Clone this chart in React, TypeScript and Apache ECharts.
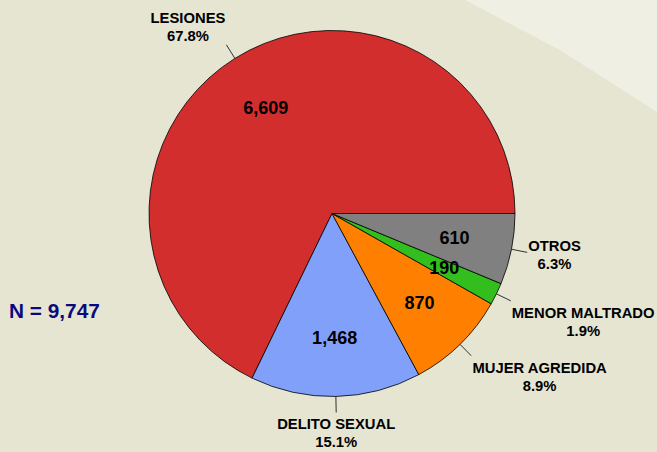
import { useEffect, useRef } from "react";
import * as echarts from "echarts";

const categories = ["LESIONES", "DELITO SEXUAL", "MUJER AGREDIDA", "MENOR MALTRADO", "OTROS"];
const values = [6609, 1468, 870, 190, 610];
const percentLabels = ["67.8%", "15.1%", "8.9%", "1.9%", "6.3%"];
const valueLabels = ["6,609", "1,468", "870", "190", "610"];
const totalLabel = "N = 9,747";
const colors = ["#D22E2E", "#80A0FA", "#FF8000", "#32BE1C", "#808080"];

const FONT = "'Liberation Sans', Arial, sans-serif";

export default function App() {
  const ref = useRef<HTMLDivElement>(null);
  useEffect(() => {
    if (!ref.current) return;
    const chart = echarts.init(ref.current, undefined, { renderer: "svg" });
    const data = categories.map((name, i) => ({
      name,
      value: values[i],
      itemStyle: { color: colors[i] },
    }));
    const option: any = {
      animation: false,
      backgroundColor: "#E6E5D2",
      graphic: [
        {
          type: "polygon",
          silent: true,
          z: -10,
          shape: { points: [[465, 0], [560, 50], [657, 112], [657, 0]] },
          style: { fill: "#EFF0E3" },
        },
        {
          type: "text",
          left: 9,
          top: 300,
          style: {
            text: totalLabel,
            font: `bold 20.8px ${FONT}`,
            fill: "#0A0A80",
          },
        },
      ],
      series: [
        {
          type: "pie",
          center: [332, 213.5],
          radius: 183,
          startAngle: 0,
          clockwise: false,
          avoidLabelOverlap: false,
          silent: true,
          emphasis: { disabled: true },
          itemStyle: { borderColor: "#000", borderWidth: 0.8 },
          label: {
            show: true,
            position: "outside",
            formatter: (p: any) => `${categories[p.dataIndex]}\n${percentLabels[p.dataIndex]}`,
            fontFamily: FONT,
            fontWeight: "bold",
            fontSize: 14.8,
            lineHeight: 18,
            color: "#000",
          },
          labelLine: {
            show: true,
            length: 16,
            length2: 0,
            smooth: false,
            lineStyle: { color: "#000", width: 0.8 },
          },
          labelLayout: (params: any) => {
            const pts = params.labelLinePoints;
            if (!pts || pts.length < 2) return {};
            const p0 = pts[0];
            const p1 = pts[1];
            const dx = p1[0] - p0[0];
            const dy = p1[1] - p0[1];
            const len = Math.hypot(dx, dy) || 1;
            const ux = dx / len;
            const uy = dy / len;
            const w = params.labelRect.width;
            const h = params.labelRect.height;
            const sx = Math.abs(ux) < 0.3 ? 0 : Math.sign(ux);
            const sy = Math.abs(uy) < 0.3 ? 0 : Math.sign(uy);
            return {
              x: p1[0] + sx * (w / 2 + 1),
              y: p1[1] + sy * (h / 2) + (sy >= 0 ? 3 : 0),
              align: "center",
              verticalAlign: "middle",
              labelLinePoints: [p0, p1, p1],
            };
          },
          data,
        },
        {
          type: "pie",
          center: [332, 213.5],
          radius: [61, 183],
          startAngle: 0,
          clockwise: false,
          avoidLabelOverlap: false,
          silent: true,
          emphasis: { disabled: true },
          itemStyle: { color: "rgba(0,0,0,0)", borderWidth: 0 },
          label: {
            show: true,
            position: "inside",
            formatter: (p: any) => valueLabels[p.dataIndex],
            fontFamily: FONT,
            fontWeight: "bold",
            fontSize: 18,
            color: "#000",
          },
          labelLine: { show: false },
          data: categories.map((name, i) => ({ name, value: values[i] })),
        },
      ],
    };
    chart.setOption(option);
    return () => chart.dispose();
  }, []);
  return (
    <div
      ref={ref}
      style={{ position: "fixed", left: 0, top: 0, width: 657, height: 452 }}
    />
  );
}
